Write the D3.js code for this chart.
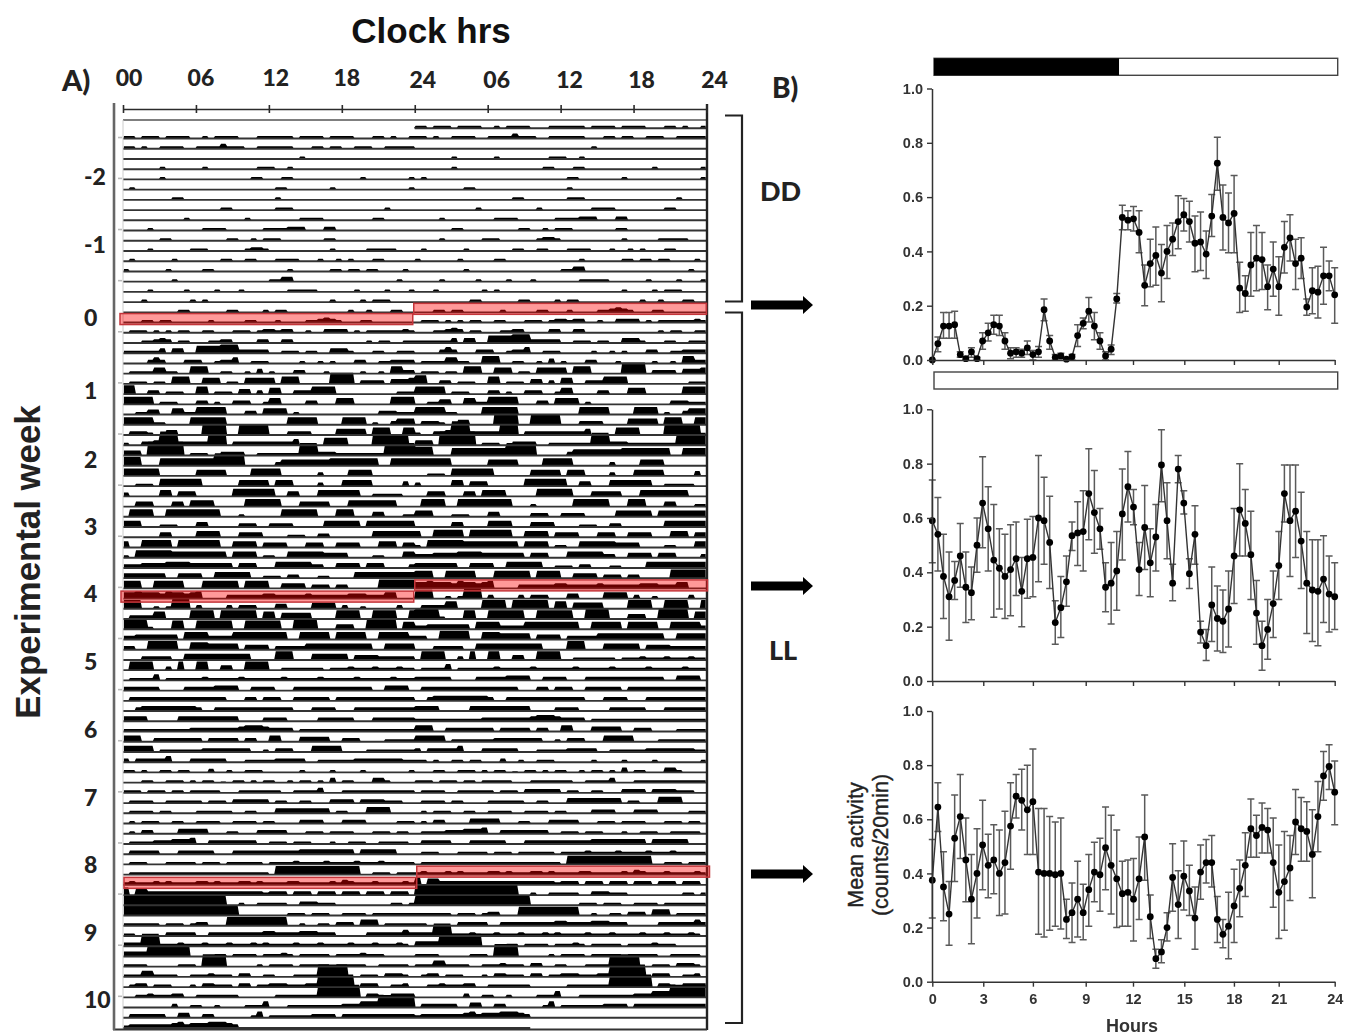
<!DOCTYPE html>
<html><head><meta charset="utf-8">
<script src="https://cdn.jsdelivr.net/npm/d3@7"></script>
<style>html,body{margin:0;background:#fff}svg{display:block}</style></head>
<body><svg id="c" width="1345" height="1035"></svg>
<script>
// Actogram: activity per 30-min bin (base-36 digit = bar height), one string per recorded day. Day 0 is empty.
const dayActivity = [
"",
"220222022220020222200022222202222022220002202002",
"220200222200222242220022222200022022002220022222",
"000000000000000000000000000002",
"0000002000000200000000222002",
"000000200000000000000220002200000000000200000002",
"020000000000000000000000022000000020000000000002",
"000000002200000000000000020",
"000000000000000022000000022200000000000000020",
"00000000002000000000200000000222200000000220",
"000020000000022220000002222333000330",
"00000022000000000220020222000000022",
"000020000002220000002332000000000020000022222",
"020000002000000022002200022220002002020002200000",
"200000020000022000000000000200000022022022000020",
"000000002000000000000000224400000000000000000200",
"000020000020000200020000000222220000002000020002",
"000200000002020000000000000000000020000202220000",
"000000000220000002200002022000000000020020002200",
"000220220000002000002200020000223432000220000000",
"022202020220022000222023323300200333302022222232",
"000223430220002233000033003300000000000020220022",
"222222404400666677733333002220220044420002200222",
"000035300033300233500222000002002020003300223333",
"022225522006660022002040200033000200000200206633",
"022202206660055502205555506660000099990333304445",
"770033022200660222044030550033366660000000000222",
"666660222000330200333002550000330005550000006666",
"002244005522666660003305555020000000000000333222",
"666662200006666660000000000666660000666602003555",
"03332004400 00aaaa0088888000333300005555506660066",
"200334bbb33333bbb033333333335000066660000999999",
"4440bbbbbb0222003333002222222aaa33322222222aaaaa",
"777000666666666aaaaa000003555555556666666600 6666",
"666666000000555550000666660000003000055550000000",
"00222066666660000005555505550000300055555000004",
"3000005504440000006666666004400055555550022222 00",
"004440004405555000006666660004444400055555555000",
"066660066666666600020000006666660006660004400022",
"555000222000440000033300333300000555555055555555",
"000000440000555500044440000222003300000005555555",
"500666660666666600555504444000444004444000555044",
"206666665555555550555502200555555444400002200055",
"333444455554444444044400055555533004444044400003",
"444444400444400555555002220330002200005555555555",
"666006666600066666606666004444033303300000777777",
"556555465545600003333334433333433333344433355",
"77700202888030000303330004400005555030020000030",
"033336600007777077777706605555500007777007777007",
"88882000770077777700777777008888000444008888 8066",
"3344444440666633336666666660066666066666006666 63",
"33007777700666555550444403333355555555555005555 5",
"0003333300555555555550000777000555555044443333 33",
"07777003070077004400777700222222202223222322232 2",
"022225022222232222232222223222223222223222223222",
"333333000033333444400333300033333333333330044440",
"033333333333333330003303330033333303333333333333",
"003444444444300333333333333300033330003333333333",
"444400000444444444400003333000003333330003333333",
"222222222223333333345554333302222222222222222222",
"55500333333330333330330055000444440033300002222 2",
"555550222222233333333002033300055555000022222222",
"303333350003333330002222233333002222223333333322",
"220200220220003002002220000002000020000200000002",
"000220022202022010220202200202202040220004420000",
"2220222022022222000222222200222240002222222222222",
"022220022222202220333333022002200033330333322200",
"022220220000222222002200044444444402200055550000",
"020222002200222200222202200003333000333300000222",
"020330000444440002200033333000222022220002220220",
"022223334445003333333300222022200020022200222220",
"033333000333333000333333333334444444440444444000",
"022200022222022202222220222232222322223222322222",
"022222222222222222222222077777777777777002220222",
"232223232222332322233232222332222232432223222232",
"605533333333333333333332333033303330333033303330",
"888888888888888880020022222003332220000000002202",
"888888888888888888800000000222022200222202222222",
"222222022202330007777777777002002203330555022222",
"220000033333003333333334433334443330000033333353",
"333aaa22232223222322232322223222322223222322232",
"4444aaaaaaa00002202222022232022222022223222",
"2222000002220aaaa000002022220222220222220022222",
"22255222200222322203300220002222aaaaa002220333203",
"02330222000203322203302233322233aaaaaa033300223",
"00223222330022222220000002222222aaaaaaa0332033333",
"000000003002200200002225000222222222333555aaaaaa0",
"033333300440033000000250222222233330333333333333",
"233333334534445554 3",
""
];
const rowTicks = [1,5,10,15,20,25,30,35,40,45,50,55,60,65,70,75,80,85];
const weekLabels = ["-2","-1","0","1","2","3","4","5","6","7","8","9","10"];
const weekLabelRows = [4.6,11.25,18.4,25.5,32.2,38.8,45.4,52,58.7,65.3,71.9,78.5,85.1];
const clockTicks = [0,6,12,18,24,30,36,42,48];
const clockLabels = ["00","06","12","18","24","06","12","18","24"];
const clockLabelShift = [6,5,7,5,8,9,9,8,8];
const recordStartHour = 24, recordEndHour = 33.5; // first row starts, second-to-last row ends
// red highlights: row, first hour, last hour, and small drift of the drawn box
const highlights = [
 {row:19,from:0,to:24,dx:-3,dy:1},{row:18,from:24,to:48,dx:-1,dy:1},
 {row:46,from:0,to:24,dx:-2,dy:2.5},{row:45,from:24,to:48,dx:0,dy:1.5},
 {row:74,from:0,to:24,dx:1,dy:2.5},{row:73,from:24,to:48,dx:2,dy:1.5}
];
const arrowYs = [305,586,874];

// Panel B: mean, lower and upper whisker every 20 minutes
const ddMean = [0,.06,.125,.125,.13,.02,.005,.03,.005,.07,.10,.13,.125,.07,.025,.03,.025,.045,.02,.03,.185,.07,.01,.015,.003,.012,.09,.135,.18,.125,.07,.015,.04,.225,.525,.515,.52,.47,.275,.355,.385,.32,.40,.445,.51,.535,.51,.43,.435,.39,.53,.725,.525,.505,.54,.265,.245,.35,.375,.37,.27,.335,.27,.415,.45,.355,.375,.195,.255,.25,.31,.31,.24];
const ddLow = [0,.03,.08,.08,.08,.01,0,.01,0,.04,.07,.095,.09,.04,.005,.01,.01,.02,0,.01,.145,.04,0,.005,0,0,.05,.115,.14,.075,.04,0,.02,.21,.48,.48,.475,.395,.2,.27,.275,.215,.30,.385,.41,.475,.435,.325,.33,.30,.455,.625,.405,.395,.395,.175,.18,.235,.255,.26,.185,.235,.165,.32,.365,.26,.30,.165,.17,.155,.205,.255,.135];
const ddHigh = [0,.085,.175,.175,.18,.03,.01,.045,.01,.10,.135,.165,.165,.10,.045,.045,.04,.07,.035,.05,.225,.09,.02,.025,.006,.02,.13,.155,.23,.175,.10,.03,.055,.245,.57,.55,.565,.55,.35,.445,.49,.425,.495,.505,.605,.595,.585,.53,.545,.475,.61,.82,.645,.615,.68,.36,.31,.47,.495,.47,.35,.435,.38,.51,.535,.445,.45,.225,.34,.345,.415,.365,.34];
const ll1Mean = [.59,.54,.385,.31,.37,.46,.345,.325,.50,.655,.56,.445,.415,.385,.41,.45,.33,.45,.455,.60,.59,.51,.215,.27,.365,.535,.545,.55,.69,.62,.56,.345,.36,.405,.615,.715,.64,.41,.565,.435,.53,.795,.59,.36,.78,.655,.395,.54,.18,.13,.28,.23,.22,.265,.46,.63,.58,.465,.25,.13,.19,.285,.425,.69,.59,.625,.515,.36,.335,.33,.375,.32,.31];
const ll1Low = [.435,.405,.23,.15,.30,.345,.215,.225,.40,.49,.405,.235,.265,.23,.24,.315,.20,.305,.31,.365,.43,.34,.135,.16,.275,.48,.425,.405,.52,.47,.485,.255,.21,.26,.445,.585,.575,.315,.41,.31,.405,.66,.45,.295,.73,.615,.34,.43,.14,.075,.145,.11,.105,.125,.285,.46,.46,.30,.135,.04,.08,.16,.30,.585,.385,.455,.34,.175,.145,.13,.215,.18,.19];
const ll1High = [.74,.675,.54,.475,.44,.58,.475,.42,.60,.825,.715,.65,.56,.54,.575,.585,.455,.595,.605,.83,.75,.68,.295,.385,.46,.585,.66,.70,.855,.775,.635,.435,.51,.55,.78,.845,.705,.51,.72,.56,.65,.925,.73,.43,.83,.70,.45,.645,.22,.19,.42,.35,.335,.405,.635,.80,.705,.625,.37,.22,.30,.405,.55,.795,.795,.795,.695,.55,.52,.52,.535,.46,.435];
const ll2Mean = [.375,.645,.35,.25,.53,.61,.45,.305,.40,.505,.43,.45,.40,.44,.575,.685,.67,.635,.665,.405,.40,.40,.395,.40,.23,.255,.305,.255,.34,.405,.395,.495,.43,.38,.325,.33,.305,.38,.535,.24,.085,.11,.20,.385,.285,.39,.335,.235,.405,.44,.44,.23,.175,.205,.28,.345,.43,.565,.54,.57,.56,.44,.33,.37,.42,.59,.565,.555,.47,.61,.76,.795,.70];
const ll2Low = [.235,.555,.225,.135,.37,.455,.295,.14,.235,.34,.31,.325,.245,.25,.415,.605,.56,.47,.47,.175,.165,.19,.205,.195,.16,.145,.165,.155,.205,.295,.26,.34,.25,.20,.205,.205,.15,.23,.375,.16,.05,.07,.15,.26,.16,.265,.245,.12,.305,.365,.35,.145,.125,.085,.145,.24,.315,.46,.46,.475,.475,.275,.16,.19,.30,.47,.445,.445,.31,.48,.67,.71,.58];
const ll2High = [.525,.735,.48,.37,.69,.765,.605,.47,.565,.67,.545,.58,.56,.63,.735,.765,.785,.80,.86,.64,.64,.61,.59,.605,.305,.365,.445,.36,.47,.515,.53,.645,.615,.56,.445,.45,.455,.535,.69,.32,.12,.155,.255,.51,.41,.52,.43,.35,.505,.525,.54,.315,.23,.33,.415,.45,.55,.675,.615,.66,.64,.605,.505,.555,.54,.71,.68,.665,.635,.74,.85,.875,.815];
const yTicks = [0,.2,.4,.6,.8,1];
const hourTicksDrawn = [0,3.04,6,9.15,11.97,15.03,17.99,20.66,24];
const hourLabels = ["0","3","6","9","12","15","18","21","24"];

const svg = d3.select("#c");
const ink = "#2b2b2b";
const sansBold = "'Liberation Sans',Arial,sans-serif";
const hum = "Lato,'Open Sans',sans-serif";

// ---------- A) actogram ----------
const clock = d3.scaleLinear().domain([0,48]).range([123,706.5]);
const rowY = d3.scaleLinear().domain([0,88]).range([128.3,1028]);
const barH = d3.scaleLinear().domain([0,10]).range([0,12.5]);
const gA = svg.append("g").style("filter","blur(.5px)");
const binsOf = s => Array.from(s.replace(/\s/g,"").padEnd(48,"0").slice(0,48)).map(c=>parseInt(c,36));
const nRows = dayActivity.length-1;
d3.range(nRows).forEach(r=>{
  const vals = binsOf(dayActivity[r]).concat(binsOf(dayActivity[r+1]));
  // each 30-min bin holds its level for most of its width, with sloped shoulders between bins
  const pts = vals.flatMap((v,i)=>[[i+.14,v],[i+.86,v]]);
  const y0 = rowY(r);
  const area = d3.area().x(d=>clock(d[0]/2)).y0(y0).y1(d=>y0-barH(d[1]));
  gA.append("path").attr("d",area(pts)).attr("fill","#000");
});
gA.append("g").selectAll("line").data(d3.range(nRows)).join("line")
  .attr("x1",d=>clock(d===0?recordStartHour:0))
  .attr("x2",d=>clock(d===nRows-1?recordEndHour:48))
  .attr("y1",d=>rowY(d)).attr("y2",d=>rowY(d))
  .attr("stroke","#333").attr("stroke-width",1.9);
// frame
gA.append("line").attr("x1",clock(0)).attr("x2",clock(48)).attr("y1",120).attr("y2",120).attr("stroke","#555").attr("stroke-width",1.6);
gA.append("line").attr("x1",123).attr("x2",123).attr("y1",120).attr("y2",1029).attr("stroke","#ccc").attr("stroke-width",1);
gA.append("line").attr("x1",707).attr("x2",707).attr("y1",104).attr("y2",1030).attr("stroke","#222").attr("stroke-width",2.4);
gA.append("line").attr("x1",113).attr("x2",707).attr("y1",1029.5).attr("y2",1029.5).attr("stroke","#333").attr("stroke-width",2);
gA.append("line").attr("x1",114).attr("x2",114).attr("y1",103).attr("y2",1030).attr("stroke","#666").attr("stroke-width",2.6);
gA.selectAll("line.rt").data(rowTicks).join("line").attr("class","rt")
  .attr("x1",118).attr("x2",122).attr("y1",d=>rowY(d)-1).attr("y2",d=>rowY(d)-1).attr("stroke","#bbb").attr("stroke-width",1.6);
// clock axis
const axTop = d3.axisTop(clock).tickValues(clockTicks).tickFormat("").tickSize(0);
const gTop = gA.append("g").attr("transform","translate(0,109)").call(axTop);
gTop.select(".domain").attr("stroke",ink).attr("stroke-width",1.6);
gTop.selectAll(".tick line").attr("y1",-4).attr("y2",4).attr("stroke",ink).attr("stroke-width",1.6);

// highlights
highlights.forEach(h=>{
  svg.append("rect").attr("x",clock(h.from)+h.dx).attr("width",clock(h.to)-clock(h.from)+1)
    .attr("y",rowY(h.row)-10+h.dy).attr("height",11)
    .attr("fill","rgba(255,0,0,.40)").attr("stroke","#c4353a").attr("stroke-width",1.5);
});

// labels
svg.append("text").text("Clock hrs").attr("x",431).attr("y",43).attr("text-anchor","middle")
  .attr("font-family",sansBold).attr("font-weight",700).attr("font-size",35).attr("fill","#111");
svg.append("text").text("Experimental week").attr("transform","translate(40,562) rotate(-90)").attr("text-anchor","middle")
  .attr("font-family",sansBold).attr("font-weight",700).attr("font-size",34.8).attr("fill","#222");
svg.append("text").text("A)").attr("x",62).attr("y",91).attr("font-family",hum).attr("font-weight",900).attr("font-size",29).attr("fill","#222");
svg.append("text").text("B)").attr("x",772).attr("y",98).attr("font-family",hum).attr("font-weight",900).attr("font-size",28).attr("fill","#222");
svg.selectAll("text.cl").data(clockTicks).join("text").attr("class","cl")
  .text((d,i)=>clockLabels[i]).attr("x",(d,i)=>clock(d)+clockLabelShift[i]).attr("y",(d,i)=>i>=4?88:86)
  .attr("text-anchor","middle").attr("font-family",hum).attr("font-weight",900).attr("font-size",23).attr("fill","#222");
svg.selectAll("text.wk").data(weekLabels).join("text").attr("class","wk")
  .text(d=>d).attr("x",84).attr("y",(d,i)=>rowY(weekLabelRows[i])+10)
  .attr("font-family",hum).attr("font-weight",900).attr("font-size",23).attr("fill","#222");
// brackets
const bracket = (y1,y2)=>svg.append("path").attr("d",`M725,${y1}H742V${y2}H725`).attr("fill","none").attr("stroke","#222").attr("stroke-width",2.2);
bracket(115.5,301.5); bracket(312.5,1023);
svg.append("text").text("DD").attr("x",760).attr("y",201).attr("font-family",hum).attr("font-weight",900).attr("font-size",27).attr("fill","#222");
svg.append("text").text("LL").attr("x",769).attr("y",660).attr("font-family",hum).attr("font-weight",900).attr("font-size",27).attr("fill","#222");
// arrows
svg.selectAll("path.ar").data(arrowYs).join("path").attr("class","ar")
  .attr("d",d=>`M751,${d-4.5}H803V${d-9}L813,${d}L803,${d+9}V${d+4.5}H751Z`).attr("fill","#000");

// ---------- B) mean activity panels ----------
const hrs = d3.scaleLinear().domain([0,24]).range([932.3,1334.7]);
function panel(top,bottom,mean,low,high,labelled){
  const y = d3.scaleLinear().domain([0,1]).range([bottom,top]);
  const g = svg.append("g").style("filter","blur(.35px)");
  const t = i=>i/3;
  mean.forEach((m,i)=>{
    const x = hrs(t(i));
    g.append("path").attr("d",`M${x},${y(low[i])}V${y(high[i])}M${x-3.5},${y(high[i])}H${x+3.5}M${x-3.5},${y(low[i])}H${x+3.5}`)
      .attr("stroke","#5a5a5a").attr("stroke-width",1.5).attr("fill","none");
  });
  g.append("path").attr("d",d3.line().x((d,i)=>hrs(t(i))).y(d=>y(d))(mean)).attr("fill","none").attr("stroke","#333").attr("stroke-width",1.4);
  g.selectAll("circle").data(mean).join("circle").attr("cx",(d,i)=>hrs(t(i))).attr("cy",d=>y(d)).attr("r",3.4).attr("fill","#000");
  const ay = d3.axisLeft(y).tickValues(yTicks).tickSize(5).tickPadding(4).tickSizeOuter(0).tickFormat(d3.format(".1f"));
  const gy = g.append("g").attr("transform","translate(932,0)").call(ay);
  const ax = d3.axisBottom(hrs).tickValues(hourTicksDrawn).tickSize(5).tickSizeOuter(0)
    .tickFormat((d,i)=>labelled?hourLabels[i]:"");
  const gx = g.append("g").attr("transform",`translate(0,${bottom})`).call(ax);
  [gy,gx].forEach(a=>{
    a.select(".domain").attr("stroke","#333").attr("stroke-width",1.5);
    a.selectAll(".tick line").attr("stroke","#333").attr("stroke-width",1.4);
    a.selectAll("text").attr("font-family",sansBold).attr("font-weight",700).attr("font-size",14.5).attr("fill","#333");
  });
  gx.selectAll("text").attr("dy","1em");
}
panel(88.5,360,ddMean,ddLow,ddHigh,false);
panel(409.3,681,ll1Mean,ll1Low,ll1High,false);
panel(711,981.7,ll2Mean,ll2Low,ll2High,true);

// light-regime bars
const lightBar = (y,blackToHour)=>{
  const bx = d3.scaleLinear().domain([0,24]).range([934,1337.7]);
  svg.append("rect").attr("x",bx(0)).attr("y",y).attr("width",bx(24)-bx(0)).attr("height",17).attr("fill","#fff").attr("stroke","#444").attr("stroke-width",1.4);
  if(blackToHour) svg.append("rect").attr("x",bx(0)).attr("y",y).attr("width",bx(blackToHour)-bx(0)).attr("height",17).attr("fill","#000");
};
lightBar(58.3,11);
lightBar(372,0);
svg.append("text").text("Hours").attr("x",1132).attr("y",1032).attr("text-anchor","middle")
  .attr("font-family",sansBold).attr("font-weight",700).attr("font-size",18).attr("fill","#333");
svg.append("text").attr("transform","translate(863,845) rotate(-90)").attr("text-anchor","middle").text("Mean activity")
  .attr("font-family",sansBold).attr("font-size",21.5).attr("fill","#222").attr("stroke","#222").attr("stroke-width",.4);
svg.append("text").attr("transform","translate(888,845) rotate(-90)").attr("text-anchor","middle").text("(counts/20min)")
  .attr("font-family",sansBold).attr("font-size",21.5).attr("fill","#222").attr("stroke","#222").attr("stroke-width",.4);
</script></body></html>
